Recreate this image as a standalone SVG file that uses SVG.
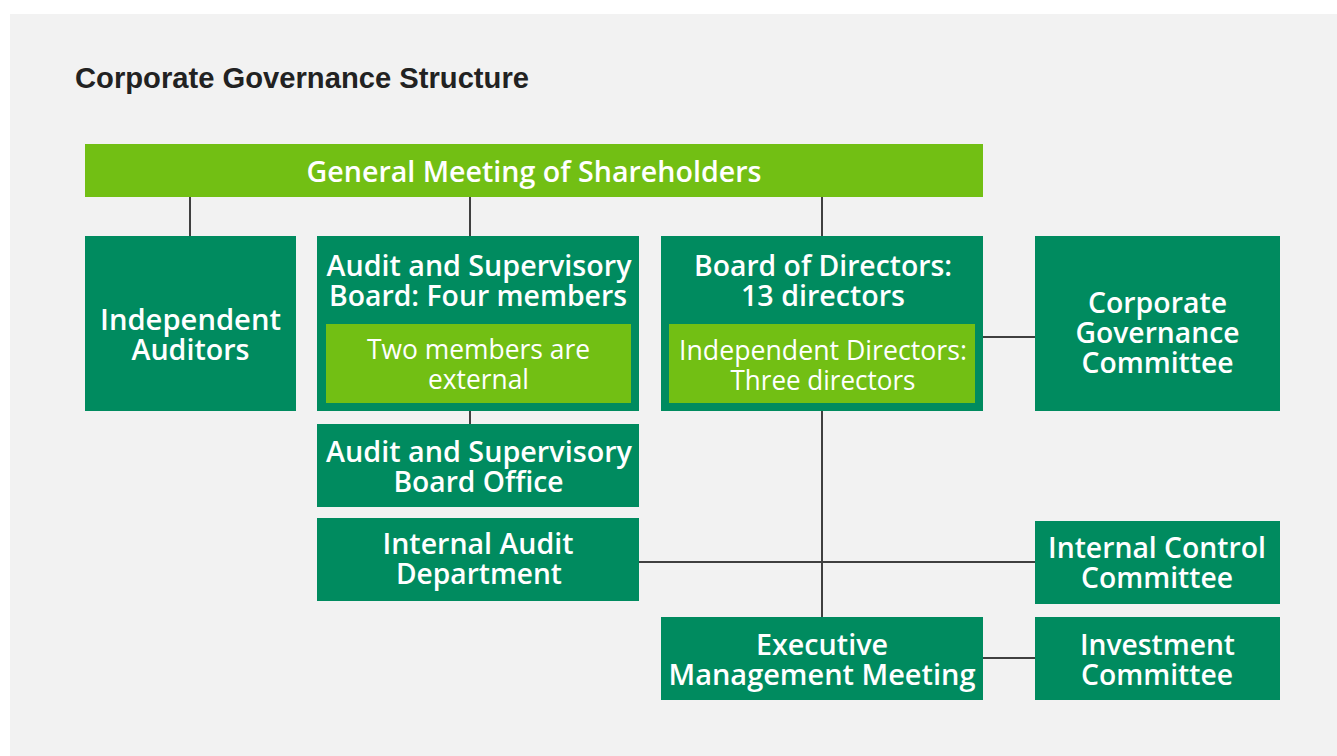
<svg xmlns="http://www.w3.org/2000/svg" width="1337" height="756" viewBox="0 0 1337 756">
<style>
.dk{fill:#008b5f}
.lm{fill:#72bf14}
.t{font-family:"Open Sans","Lato",sans-serif;font-weight:600;font-size:29px;fill:#ffffff;text-anchor:middle}
.s{font-family:"Open Sans","Lato",sans-serif;font-weight:400;font-size:27px;fill:#ffffff;text-anchor:middle}
.ln{stroke:#404040;stroke-width:2;fill:none}
</style>
<rect x="0" y="0" width="1337" height="756" fill="#ffffff"/>
<rect x="10" y="14" width="1327" height="742" fill="#f2f2f2"/>
<text x="75" y="88" font-family="'Liberation Sans',Arial,sans-serif" font-weight="700" font-size="29" fill="#222222" textLength="454" lengthAdjust="spacingAndGlyphs">Corporate Governance Structure</text>
<g id="connectors">
<line class="ln" x1="190" y1="197" x2="190" y2="236"/>
<line class="ln" x1="470" y1="197" x2="470" y2="236"/>
<line class="ln" x1="822" y1="197" x2="822" y2="236"/>
<line class="ln" x1="470" y1="411" x2="470" y2="424"/>
<line class="ln" x1="822" y1="411" x2="822" y2="617"/>
<line class="ln" x1="983" y1="337" x2="1035" y2="337"/>
<line class="ln" x1="639" y1="562" x2="1035" y2="562"/>
<line class="ln" x1="983" y1="658" x2="1035" y2="658"/>
</g>
<g id="general-meeting">
<rect class="lm" x="85" y="144" width="898" height="53"/>
<text class="t" x="534" y="182" textLength="455" lengthAdjust="spacingAndGlyphs">General Meeting of Shareholders</text>
</g>
<g id="independent-auditors">
<rect class="dk" x="85" y="236" width="211" height="175"/>
<text class="t" x="190.5" y="330" textLength="181" lengthAdjust="spacingAndGlyphs">Independent</text>
<text class="t" x="190.5" y="360" textLength="118" lengthAdjust="spacingAndGlyphs">Auditors</text>
</g>
<g id="audit-supervisory-board">
<rect class="dk" x="317" y="236" width="322" height="175"/>
<text class="t" x="479" y="276" textLength="305" lengthAdjust="spacingAndGlyphs">Audit and Supervisory</text>
<text class="t" x="478" y="306" textLength="298" lengthAdjust="spacingAndGlyphs">Board: Four members</text>
<rect class="lm" x="326" y="324" width="305" height="79"/>
<text class="s" x="478.5" y="359" textLength="223" lengthAdjust="spacingAndGlyphs">Two members are</text>
<text class="s" x="478.5" y="389" textLength="101" lengthAdjust="spacingAndGlyphs">external</text>
</g>
<g id="board-of-directors">
<rect class="dk" x="661" y="236" width="322" height="175"/>
<text class="t" x="823" y="276" textLength="258" lengthAdjust="spacingAndGlyphs">Board of Directors:</text>
<text class="t" x="823" y="306" textLength="164" lengthAdjust="spacingAndGlyphs">13 directors</text>
<rect class="lm" x="669" y="324" width="306" height="79"/>
<text class="s" x="823" y="360" textLength="288" lengthAdjust="spacingAndGlyphs">Independent Directors:</text>
<text class="s" x="823" y="390" textLength="185" lengthAdjust="spacingAndGlyphs">Three directors</text>
</g>
<g id="corporate-governance-committee">
<rect class="dk" x="1035" y="236" width="245" height="175"/>
<text class="t" x="1157.5" y="313" textLength="139" lengthAdjust="spacingAndGlyphs">Corporate</text>
<text class="t" x="1157.5" y="343" textLength="164" lengthAdjust="spacingAndGlyphs">Governance</text>
<text class="t" x="1157.5" y="373" textLength="152" lengthAdjust="spacingAndGlyphs">Committee</text>
</g>
<g id="audit-supervisory-board-office">
<rect class="dk" x="317" y="424" width="322" height="83"/>
<text class="t" x="479" y="462" textLength="306" lengthAdjust="spacingAndGlyphs">Audit and Supervisory</text>
<text class="t" x="478.5" y="492" textLength="170" lengthAdjust="spacingAndGlyphs">Board Office</text>
</g>
<g id="internal-audit-department">
<rect class="dk" x="317" y="518" width="322" height="83"/>
<text class="t" x="478" y="554" textLength="191" lengthAdjust="spacingAndGlyphs">Internal Audit</text>
<text class="t" x="479" y="584" textLength="166" lengthAdjust="spacingAndGlyphs">Department</text>
</g>
<g id="internal-control-committee">
<rect class="dk" x="1035" y="521" width="245" height="83"/>
<text class="t" x="1157" y="558" textLength="218" lengthAdjust="spacingAndGlyphs">Internal Control</text>
<text class="t" x="1157" y="588" textLength="152" lengthAdjust="spacingAndGlyphs">Committee</text>
</g>
<g id="executive-management-meeting">
<rect class="dk" x="661" y="617" width="322" height="83"/>
<text class="t" x="822" y="655" textLength="132" lengthAdjust="spacingAndGlyphs">Executive</text>
<text class="t" x="822" y="685" textLength="307" lengthAdjust="spacingAndGlyphs">Management Meeting</text>
</g>
<g id="investment-committee">
<rect class="dk" x="1035" y="617" width="245" height="83"/>
<text class="t" x="1157.5" y="655" textLength="155" lengthAdjust="spacingAndGlyphs">Investment</text>
<text class="t" x="1157" y="685" textLength="152" lengthAdjust="spacingAndGlyphs">Committee</text>
</g>
</svg>
